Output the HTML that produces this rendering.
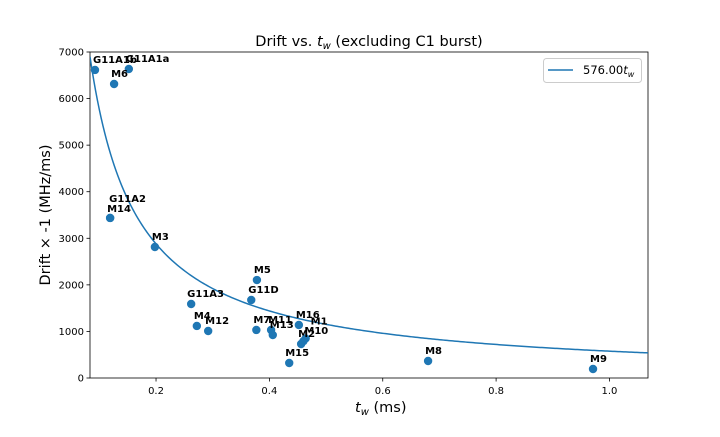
<!DOCTYPE html>
<html><head><meta charset="utf-8"><style>
body{margin:0;background:#fff;}
svg{font-family:"DejaVu Sans","Liberation Sans",sans-serif;}
</style></head><body>
<svg id="chart" width="720" height="432" xmlns="http://www.w3.org/2000/svg"></svg>
<script>
const names=["G11A1b","G11A1a","M6","G11A2","M14","M3","G11A3","M4","M12","M5","G11D","M7","M11","M13","M16","M1","M10","M2","M15","M8","M9"];
const tw=[0.0923,0.152,0.126,0.119,0.119,0.198,0.262,0.272,0.292,0.378,0.368,0.377,0.403,0.406,0.452,0.464,0.460,0.456,0.435,0.680,0.971];
const drift=[6614,6635,6313,3436,3436,2813,1589,1117,1009,2104,1675,1031,1031,923,1138,850,790,730,322,365,193];
const labelDx=[-2,-3,-3,-1,-3,-3,-4,-3,-3,-3,-3,-3,-3,-3,-3,5,1,-3,-4,-3,-3];
const labelDy=[-7,-7,-7,-16,-6,-7,-7,-7,-7,-7,-7,-7,-7,-7,-7,-14,-7,-7,-7,-7,-7];
const xTicks=[0.2,0.4,0.6,0.8,1.0];
const yTicks=[0,1000,2000,3000,4000,5000,6000,7000];
const fitCoef=576.00;
const L=90,R=648,T=52,B=378;
const xmin=0.0835,xmax=1.068,ymin=0,ymax=7000;
const X=v=>L+(v-xmin)/(xmax-xmin)*(R-L);
const Y=v=>B-(v-ymin)/(ymax-ymin)*(B-T);
const svg=document.getElementById('chart');
const NS='http://www.w3.org/2000/svg';
function mk(tag,attrs,parent){const e=document.createElementNS(NS,tag);for(const k in attrs)e.setAttribute(k,attrs[k]);(parent||svg).appendChild(e);return e;}
// frame
let fr=mk('rect',{x:L,y:T,width:R-L,height:B-T,fill:'none',stroke:'#000','stroke-width':0.8});


xTicks.forEach(v=>{
 const x=X(v);
 const tk=mk('line',{x1:x,x2:x,y1:B,y2:B+3.5,stroke:'#000','stroke-width':0.8});
 
 
 const t=mk('text',{x:x,y:B+16,'font-size':10,'text-anchor':'middle'});t.textContent=v.toFixed(1);
 
 
});
yTicks.forEach(v=>{
 const y=Y(v);
 const tk=mk('line',{x1:L-3.5,x2:L,y1:y,y2:y,stroke:'#000','stroke-width':0.8});
 
 
 const t=mk('text',{x:L-6,y:y+3.5,'font-size':10,'text-anchor':'end'});t.textContent=v;
 
 
});
// fit curve
let d='';
for(let i=0;i<=300;i++){const t=xmin+(xmax-xmin)*i/300;d+=(i?'L':'M')+X(t).toFixed(2)+','+Y(fitCoef/t).toFixed(2);}
const cp=mk('clipPath',{id:'clip'});mk('rect',{x:L,y:T,width:R-L,height:B-T},cp);
const fit=mk('path',{d:d,fill:'none',stroke:'#1f77b4','stroke-width':1.5,'clip-path':'url(#clip)'});


// points
names.forEach((n,i)=>{
 const c=mk('circle',{cx:X(tw[i]),cy:Y(drift[i]),r:4.2,fill:'#1f77b4'});
 
 
});
names.forEach((n,i)=>{
 const t=mk('text',{x:X(tw[i])+labelDx[i],y:Y(drift[i])+labelDy[i],'font-size':10,'font-weight':'bold'});t.textContent=n;
 
 
});
// titles
const ti=mk('text',{x:(L+R)/2,y:46,'font-size':14.5,'text-anchor':'middle'});
ti.innerHTML='Drift vs. <tspan font-style="italic">t</tspan><tspan font-style="italic" font-size="10" dy="3">w</tspan><tspan dy="-3"> (excluding C1 burst)</tspan>';


const xl=mk('text',{x:(L+R)/2-14,y:412,'font-size':14.5});
xl.innerHTML='<tspan font-style="italic">t</tspan><tspan font-style="italic" font-size="10" dy="3">w</tspan><tspan dy="-3"> (ms)</tspan>';


const yl=mk('text',{x:0,y:0,'font-size':14.5,'text-anchor':'middle',transform:'translate(50,'+((T+B)/2)+') rotate(-90)'});
yl.textContent='Drift × -1 (MHz/ms)';


// legend
const lg=mk('g',{});


mk('rect',{x:543.5,y:58.5,width:98,height:24,rx:3,fill:'#fff',stroke:'#ccc'},lg);
const ll=mk('line',{x1:548,x2:573,y1:70,y2:70,stroke:'#1f77b4','stroke-width':1.5},lg);


const lt=mk('text',{x:583,y:74,'font-size':11.5},lg);
lt.innerHTML='576.00<tspan font-style="italic">t</tspan><tspan font-style="italic" font-size="8" dy="3">w</tspan>';


</script>
</body></html>
